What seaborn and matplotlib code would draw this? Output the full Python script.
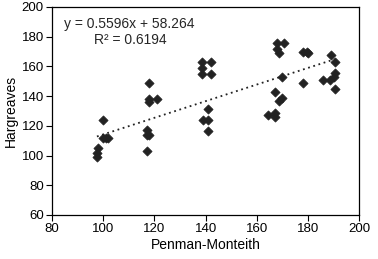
import numpy as np
import pandas as pd
import matplotlib
matplotlib.use("Agg")
import matplotlib.pyplot as plt
import seaborn as sns

# Valores
penman = [100, 100, 101, 102, 98, 97.5, 97.5,
          118, 118, 118, 121, 117, 117, 118, 117,
          138.5, 142, 138.5, 138.5, 142, 141, 139, 141, 141,
          168, 170.5, 168, 168.5, 170, 167, 168.5, 170, 164.5, 167, 167,
          178, 179.5, 180, 178,
          189, 190.5, 190.5, 190, 188.5, 186, 190.5]
hargreaves = [124, 112, 112, 112, 105, 102, 99,
              149, 138, 136, 138, 117, 114, 114, 103,
              163, 163, 159, 155, 155, 131, 124, 124, 116.5,
              175.5, 175.5, 172, 169, 153, 143, 137, 138.5, 127, 128.5, 126,
              170, 170, 169, 149,
              168, 163, 155.5, 153, 151, 151, 145]

pendiente = 0.5596
intercepto = 58.264
r2 = 0.6194

df = pd.DataFrame({"pm": penman, "hg": hargreaves})

sns.set_style("ticks")
plt.rcParams["font.family"] = ["Liberation Sans", "DejaVu Sans"]

fig = plt.figure(figsize=(3.78, 2.59), dpi=100)
ax = fig.add_axes([0.138, 0.170, 0.812, 0.803])

sns.scatterplot(data=df, x="pm", y="hg", marker="D", s=22,
                color="#222222", edgecolor="#222222", linewidth=0.5, ax=ax)

# linea de tendencia
xl = np.array([min(penman), max(penman)])
ax.plot(xl, pendiente * xl + intercepto, color="#222222",
        linestyle=(0, (1, 2)), linewidth=1.3)

ax.text(110, 188.5, f"y = {pendiente}x + {intercepto}", ha="center",
        va="center", fontsize=10)
ax.text(110.5, 177.5, f"R² = {r2}", ha="center", va="center", fontsize=10)

ax.set_xlim(80, 200)
ax.set_ylim(60, 200)
ax.set_xticks(range(80, 201, 20))
ax.set_yticks(range(60, 201, 20))
ax.tick_params(labelsize=9.5, length=4, width=0.8, direction="out",
               color="black", labelcolor="black", pad=2)
for sp in ax.spines.values():
    sp.set_visible(True)
    sp.set_color("black")
    sp.set_linewidth(0.9)

ax.set_xlabel("Penman-Monteith", fontsize=10, labelpad=2, color="black")
ax.set_ylabel("Hargreaves", fontsize=10, labelpad=3, color="black")

fig.savefig("out.png", dpi=100)
